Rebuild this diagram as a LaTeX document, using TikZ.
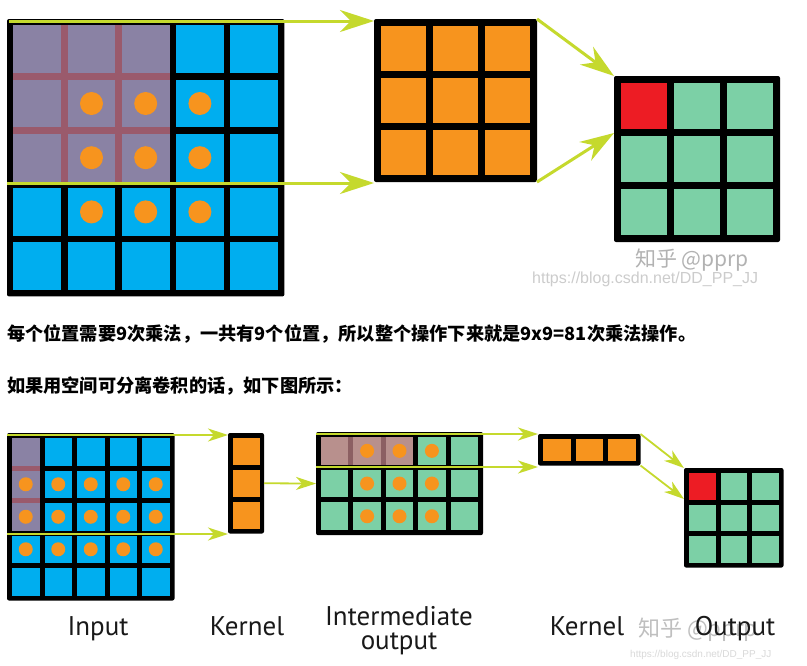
\documentclass[tikz,border=0pt]{standalone}
\usepackage{fontspec}
\usetikzlibrary{arrows.meta,calc}
\newfontfamily\cjk{Noto Sans CJK SC}
\newfontfamily\labfont{PT Sans}
\newfontfamily\urlfont{Liberation Sans}
\definecolor{bluec}{HTML}{00AEEF}
\definecolor{orangec}{HTML}{F7941E}
\definecolor{greenc}{HTML}{7CD0A6}
\definecolor{redc}{HTML}{ED1C24}
\definecolor{purplec}{HTML}{8A82A4}
\definecolor{pgapc}{HTML}{9A5A6C}
\definecolor{brownc}{HTML}{B8908D}
\definecolor{bgapc}{HTML}{8C5F62}
\definecolor{yellowc}{HTML}{C5D92D}
\newcommand{\setgrid}[5]{\def\GX{#1}\def\GY{#2}\def\GP{#3}\def\GQ{#4}\def\GG{#5}}
\newcommand{\cellat}[3]{\fill[#3] ({\GX+\GG+#1*\GP},{\GY+\GG+#2*\GQ}) rectangle ++({\GP-\GG},{\GQ-\GG});}
\newcommand{\dotat}[3]{\fill[orangec] ({\GX+\GG+#1*\GP+(\GP-\GG)/2},{\GY+\GG+#2*\GQ+(\GQ-\GG)/2}) circle[radius=#3pt];}
\newcommand{\blockat}[5]{\fill[#5] ({\GX+\GG+#1*\GP},{\GY+\GG+#2*\GQ}) rectangle ({\GX+#3*\GP+\GP},{\GY+#4*\GQ+\GQ});}
\newcommand{\mkgrid}[4]{%
  \node[gridnode, minimum width={#2*\GP+\GG}, minimum height={#3*\GQ+\GG}] (#1) at (\GX,\GY) {};
  \pgfmathtruncatemacro\gcmax{#2-1}\pgfmathtruncatemacro\grmax{#3-1}%
  \foreach \i in {0,...,\gcmax}{\foreach \j in {0,...,\grmax}{\cellat{\i}{\j}{#4}}}}
\tikzset{
  gridnode/.style={fill=black, draw=none, rounded corners=2pt, anchor=north west, inner sep=0pt, outer sep=0pt},
  ybig/.style={draw=yellowc, line width=3pt, -{Stealth[length=34pt,width=22pt,inset=11pt]}},
  ysmall/.style={draw=yellowc, line width=1.8pt, -{Stealth[length=20pt,width=13pt,inset=6pt]}},
  cjktext/.style={anchor=base west, inner sep=0pt, font=\cjk\bfseries\fontsize{18.2}{20}\selectfont},
  lab/.style={anchor=base, inner sep=0pt, font=\labfont\fontsize{27}{24}\selectfont, text=black!90},
  wmark/.style={anchor=base west, inner sep=0pt, font=\cjk\fontsize{21}{24}\selectfont, text=black!30},
  wurl/.style={anchor=base west, inner sep=0pt, font=\urlfont\fontsize{16}{18}\selectfont, text=black!20}
}
\begin{document}
\begin{tikzpicture}[x=1pt,y=-1pt]
\useasboundingbox[fill=white] (0,0) rectangle (807,665);
% ---------- top: input 5x5 ----------
\setgrid{7}{19}{54.2}{54.2}{6.4}
\mkgrid{in1}{5}{5}{bluec}
\blockat{0}{0}{2}{2}{pgapc}
\foreach \i in {0,1,2}{\foreach \j in {0,1,2}{\cellat{\i}{\j}{purplec}}}
\foreach \i in {1,2,3}{\foreach \j in {1,2,3}{\dotat{\i}{\j}{11.5}}}
% top kernel 3x3
\setgrid{374}{19}{52}{52}{7}
\mkgrid{k1}{3}{3}{orangec}
% top output 3x3
\setgrid{614}{76}{53}{53}{7}
\mkgrid{o1}{3}{3}{greenc}
\cellat{0}{0}{redc}
% watermark top
\node[wmark] (wm1) at (635,266) {知乎 @pprp};
\node[wurl] (wu1) at (532,283) {https://blog.csdn.net/DD\_PP\_JJ};
% top connectors
\coordinate (t1s) at (9,21);
\coordinate (t2s) at (7,183);
\draw[ybig] (t1s) -- (t1s -| k1.west);
\draw[ybig] (t2s) -- (t2s -| k1.west);
\draw[ybig] (k1.north east) -- (o1.north west);
\draw[ybig] (k1.south east) -- ($(o1.north west)+(0,57)$);
% ---------- texts ----------
\node[cjktext] (txt1) at (7,340) {每个位置需要9次乘法，一共有9个位置，所以整个操作下来就是9x9=81次乘法操作。};
\node[cjktext] (txt2) at (7,392) {如果用空间可分离卷积的话，如下图所示：};
% ---------- bottom: input 5x5 ----------
\setgrid{7}{433}{32.5}{32.5}{5}
\mkgrid{in2}{5}{5}{bluec}
\blockat{0}{0}{0}{2}{pgapc}
\foreach \j in {0,1,2}{\cellat{0}{\j}{purplec}}
\foreach \i in {0,...,4}{\foreach \j in {1,2,3}{\dotat{\i}{\j}{7}}}
% kernel 3x1
\setgrid{228}{433}{31.5}{32}{4.5}
\mkgrid{k2}{1}{3}{orangec}
% intermediate 5x3
\setgrid{316}{432}{32.4}{32.7}{5}
\mkgrid{im}{5}{3}{greenc}
\blockat{0}{0}{2}{0}{bgapc}
\foreach \i in {0,1,2}{\cellat{\i}{0}{brownc}}
\foreach \i in {1,2,3}{\foreach \j in {0,1,2}{\dotat{\i}{\j}{7}}}
% kernel 1x3
\setgrid{538}{434}{32.5}{26.5}{5}
\mkgrid{k3}{3}{1}{orangec}
% output 3x3
\setgrid{684}{468}{31.5}{31.5}{5}
\mkgrid{o2}{3}{3}{greenc}
\cellat{0}{0}{redc}
% bottom connectors
\coordinate (b1s) at (7,435);
\coordinate (b2s) at (7,534);
\coordinate (b3s) at (316,434);
\coordinate (b4s) at (316,467);
\draw[ysmall] (b1s) -- (b1s -| k2.west);
\draw[ysmall] (b2s) -- (b2s -| k2.west);
\draw[ysmall] (k2.east) -- (im.west);
\draw[ysmall] (b3s) -- (b3s -| k3.west);
\draw[ysmall] (b4s) -- (b4s -| k3.west);
\draw[ysmall] (k3.north east) -- (o2.north west);
\draw[ysmall] (k3.south east) -- ($(o2.north west)+(0,31)$);
% watermark bottom
\node[wmark, font=\cjk\fontsize{22}{24}\selectfont, text=black!25] (wm2) at (638,636) {知乎 @pprp};
\node[wurl, font=\urlfont\fontsize{10}{12}\selectfont, text=black!15] (wu2) at (630,657) {https://blog.csdn.net/DD\_PP\_JJ};
% labels
\node[lab] (lin) at (98,635) {Input};
\node[lab] (lk1) at (247,635) {Kernel};
\node[lab, anchor=center, align=center] (lim) at (399,631) {Intermediate\\output};
\node[lab] (lk2) at (587,635) {Kernel};
\node[lab] (lout) at (735,635) {Output};
\end{tikzpicture}
\end{document}
